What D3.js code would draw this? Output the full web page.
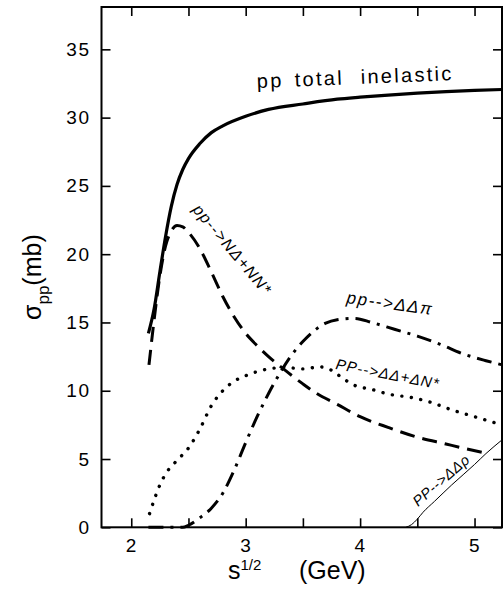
<!DOCTYPE html>
<html>
<head>
<meta charset="utf-8">
<script src="https://cdn.jsdelivr.net/npm/d3@7"></script>
<style>
  html, body { margin: 0; padding: 0; background: #fff; }
  svg { display: block; }
  text { font-family: "Liberation Sans", Arial, Helvetica, sans-serif; fill: #000; }
</style>
</head>
<body>
<svg id="chart" width="503" height="592"></svg>
<script>
// ---- data (sqrt(s) in GeV, sigma in mb) ----
const totalInelastic = [[2.15,14.2],[2.2,16.0],[2.25,18.7],[2.3,21.3],[2.35,23.5],[2.4,25.1],[2.45,26.2],[2.5,27.0],[2.6,28.1],[2.7,28.9],[2.8,29.4],[3.0,30.1],[3.2,30.6],[3.5,31.0],[3.8,31.35],[4.0,31.5],[4.5,31.8],[5.0,32.0],[5.24,32.06]];
const nDeltaNNstar = [[2.155,11.9],[2.2,15.2],[2.25,18.4],[2.3,20.6],[2.35,21.7],[2.4,22.1],[2.45,22.0],[2.5,21.6],[2.6,20.4],[2.7,18.7],[2.8,16.9],[2.9,15.4],[3.0,14.2],[3.1,13.3],[3.2,12.5],[3.33,11.6],[3.5,10.5],[3.62,9.8],[3.8,9.0],[4.0,8.1],[4.25,7.3],[4.5,6.6],[4.75,6.1],[4.9,5.8],[5.12,5.4]];
const deltaDeltaPi = [[2.15,0],[2.45,0],[2.5,0.15],[2.6,0.7],[2.7,1.4],[2.8,2.5],[2.9,4.2],[3.0,6.2],[3.1,8.1],[3.2,9.8],[3.3,11.3],[3.4,12.6],[3.5,13.6],[3.6,14.4],[3.7,14.95],[3.8,15.2],[3.95,15.3],[4.1,15.0],[4.3,14.5],[4.5,14.0],[4.7,13.4],[4.9,12.7],[5.1,12.2],[5.24,11.9]];
const deltaDeltaDeltaNstar = [[2.16,1.0],[2.2,2.0],[2.25,3.1],[2.3,3.9],[2.4,4.9],[2.5,5.8],[2.6,7.2],[2.7,8.9],[2.8,10.0],[2.9,10.7],[3.0,11.1],[3.1,11.4],[3.2,11.6],[3.35,11.7],[3.5,11.6],[3.65,11.75],[3.75,11.5],[3.85,10.9],[3.95,10.4],[4.1,10.1],[4.25,9.75],[4.45,9.5],[4.6,9.2],[4.8,8.6],[5.0,8.1],[5.24,7.5]];
const deltaDeltaRho = [[4.4,0],[4.45,0.2],[4.5,0.6],[4.55,1.1],[4.65,1.9],[4.8,3.1],[5.0,4.6],[5.1,5.4],[5.24,6.4]];

const xTicks = [2, 2.5, 3, 3.5, 4, 4.5, 5];
const yTicks = [0, 5, 10, 15, 20, 25, 30, 35];

// ---- layout ----
const svg = d3.select("#chart");
const L = 101.5, R = 502, T = 7, B = 527.3;
const x = d3.scaleLinear().domain([1.74, 5.24]).range([L, R]);
const y = d3.scaleLinear().domain([0, 38.1]).range([B, T]);

const fmtX = d => Number.isInteger(d) ? String(d) : "";

// axes
const gB = svg.append("g").attr("transform", `translate(0,${B})`)
  .call(d3.axisBottom(x).tickValues(xTicks).tickSizeInner(-9).tickSizeOuter(0).tickPadding(11).tickFormat(fmtX));
const gT = svg.append("g").attr("transform", `translate(0,${T})`)
  .call(d3.axisTop(x).tickValues(xTicks).tickSizeInner(-9).tickSizeOuter(0).tickFormat(""));
const gL = svg.append("g").attr("transform", `translate(${L},0)`)
  .call(d3.axisLeft(y).tickValues(yTicks).tickSizeInner(-9).tickSizeOuter(0).tickPadding(11));
const gR = svg.append("g").attr("transform", `translate(${R},0)`)
  .call(d3.axisRight(y).tickValues(yTicks).tickSizeInner(-9).tickSizeOuter(0).tickFormat(""));

[gB, gT, gL, gR].forEach(g => {
  g.select(".domain").remove();
  g.selectAll(".tick line").attr("stroke", "#000").attr("stroke-width", 1.6);
  g.selectAll(".tick text").attr("font-size", 19).attr("letter-spacing", "1.5px")
    .style("font-family", '"Liberation Sans", Arial, sans-serif').attr("fill", "#000");
});

svg.append("rect").attr("x", L).attr("y", T).attr("width", R - L).attr("height", B - T)
  .attr("fill", "none").attr("stroke", "#000").attr("stroke-width", 2);

// curves
const line = d3.line().x(d => x(d[0])).y(d => y(d[1])).curve(d3.curveMonotoneX);

svg.append("path").datum(totalInelastic).attr("d", line)
  .attr("fill", "none").attr("stroke", "#000").attr("stroke-width", 3.2);

svg.append("path").datum(nDeltaNNstar).attr("d", line)
  .attr("fill", "none").attr("stroke", "#000").attr("stroke-width", 3)
  .attr("stroke-dasharray", "15,8");

svg.append("path").datum(deltaDeltaPi).attr("d", line)
  .attr("fill", "none").attr("stroke", "#000").attr("stroke-width", 3)
  .attr("stroke-dasharray", "15,7,3,7");

svg.append("path").datum(deltaDeltaDeltaNstar).attr("d", line)
  .attr("fill", "none").attr("stroke", "#000").attr("stroke-width", 3.4)
  .attr("stroke-linecap", "round").attr("stroke-dasharray", "0.1,9.5");

svg.append("path").datum(deltaDeltaRho).attr("d", line)
  .attr("fill", "none").attr("stroke", "#000").attr("stroke-width", 1);

// curve labels
function label(txt, px, py, rot, size, italic, ls) {
  return svg.append("text").attr("transform", `translate(${px},${py}) rotate(${rot})`)
    .attr("font-size", size).attr("font-style", italic ? "italic" : "normal")
    .attr("letter-spacing", ls + "px").text(txt);
}
const tot = svg.append("text").attr("transform", "translate(257,88) rotate(-2.3)")
  .attr("font-size", 20).attr("letter-spacing", "2.3px");
tot.append("tspan").attr("x", 0).text("pp");
tot.append("tspan").attr("x", 38).text("total");
tot.append("tspan").attr("x", 104).text("inelastic");

label("pp-->NΔ+NN*", 192, 210, 50, 16, true, 1.3);
label("pp-->ΔΔπ", 346, 303, 8, 17, true, 1.6);
label("PP-->ΔΔ+ΔN*", 335, 369, 11, 15, true, 1);
label("PP-->ΔΔρ", 418, 507, -41, 14.5, true, 0.6);

// axis titles
const xt = svg.append("text").attr("x", 228).attr("y", 579).attr("font-size", 25);
xt.append("tspan").text("s");
xt.append("tspan").attr("dy", -9).attr("font-size", 15).text("1/2");
xt.append("tspan").attr("x", 299).attr("dy", 9).text("(GeV)");

const yt = svg.append("text").attr("transform", "translate(41,320) rotate(-90)").attr("font-size", 25);
yt.append("tspan").text("σ");
yt.append("tspan").attr("dy", 8).attr("font-size", 17).text("pp");
yt.append("tspan").attr("dy", -8).text("(mb)");
</script>
</body>
</html>
